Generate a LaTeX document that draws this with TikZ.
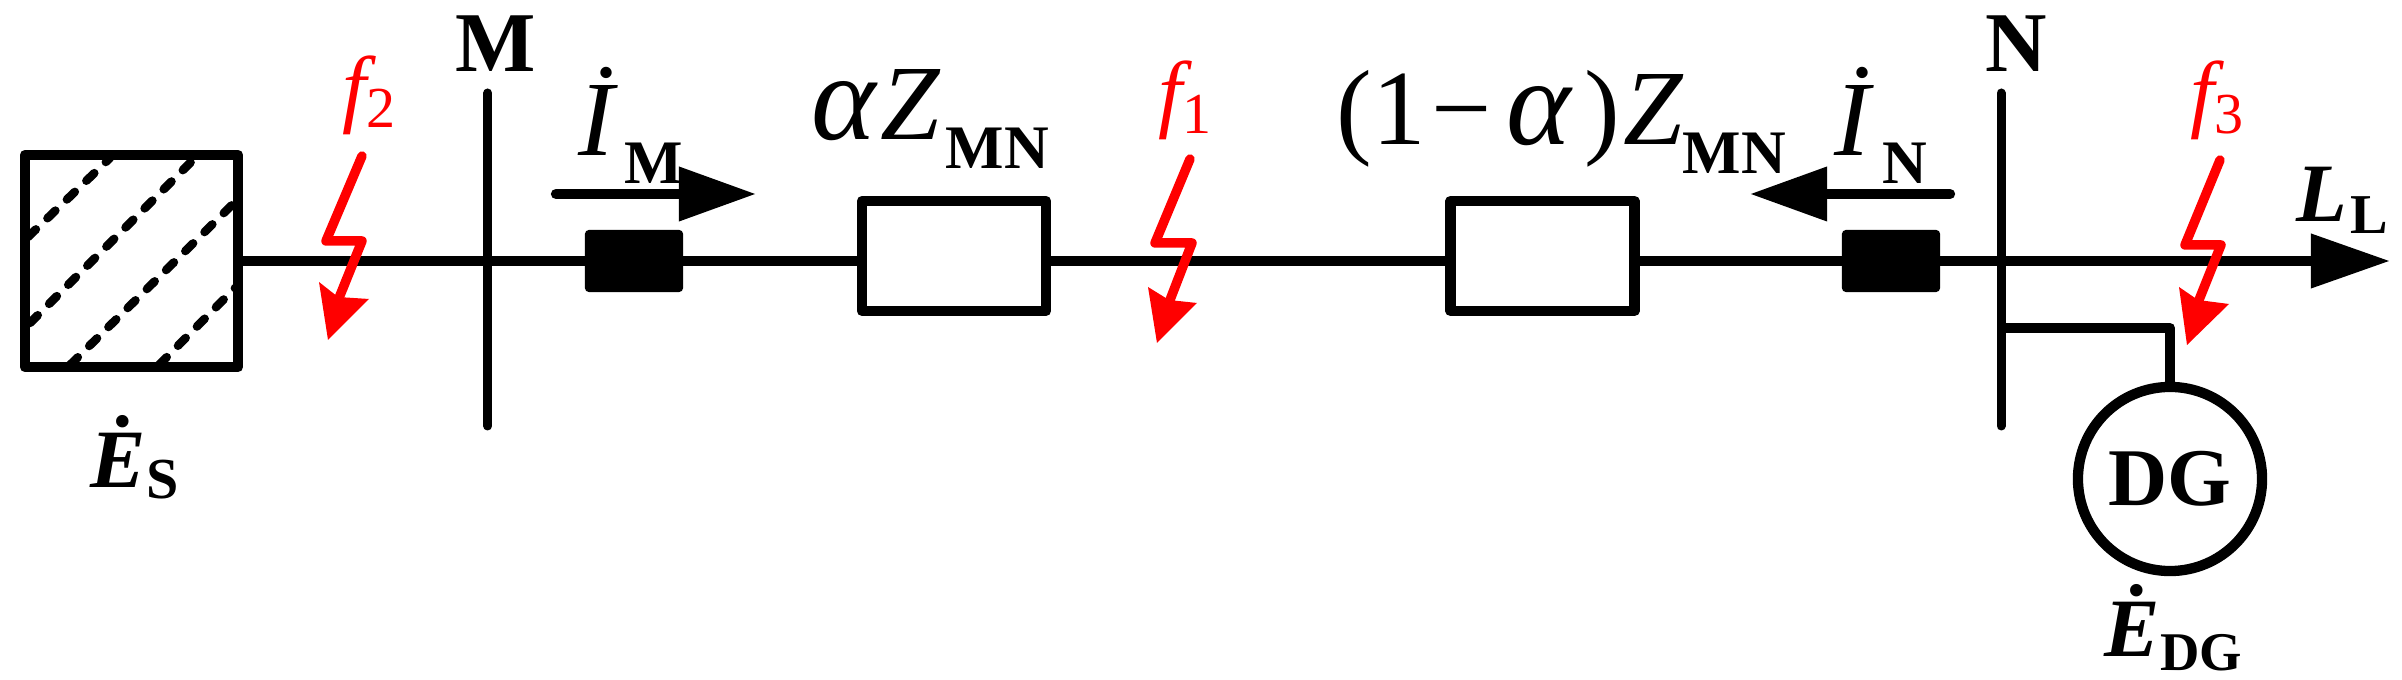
\documentclass[tikz,border=0pt]{standalone}
\usepackage{fontspec}
\setmainfont{Liberation Serif}
\usetikzlibrary{arrows.meta,calc}
\newcommand{\fsz}[1]{\fontsize{#1}{#1}\selectfont}
\newcommand{\lowsub}[3]{\raisebox{-#1}{\fsz{#2}#3}}
\tikzset{
  wire/.style={line width=1.03mm,line join=round,line cap=butt},
  bus/.style={line width=0.9mm,line cap=round},
  flow/.style={line width=1.03mm,line cap=round,-{Triangle[length=7.7mm,width=5.2mm]}},
  zbox/.style={draw,line width=1.03mm,line join=round,fill=white,minimum width=18.4mm,minimum height=11mm,inner sep=0},
  brk/.style={draw,fill=black,line width=0.2mm,rounded corners=0.3mm,minimum width=9.6mm,minimum height=6mm,inner sep=0},
  bolt/.style={red,line width=0.95mm,line join=round,line cap=round},
  lbl/.style={inner sep=0,anchor=base west},
  flbl/.style={lbl,red}
}
\begin{document}
\begin{tikzpicture}[x=0.01cm,y=-0.01cm]
  \useasboundingbox (0,0) rectangle (2402,680);
  % hatched source
  \draw[line width=0.85mm,line cap=round,dash pattern=on 1.1mm off 1.6mm]
    (28,237) -- (110,158)
    (30,323) -- (193,160)
    (70,365) -- (235,202)
    (159,365) -- (235,288);
  \node[draw,line width=1.03mm,line join=round,minimum width=21.3mm,minimum height=21.2mm,inner sep=0] (source) at (131.5,261) {};
  % buses
  \coordinate (Mtop) at (487.7,93);
  \coordinate (Mbot) at (487.7,426);
  \coordinate (busM) at (487.7,261);
  \coordinate (Ntop) at (2001,93);
  \coordinate (Nbot) at (2001,426);
  \coordinate (busN) at (2001,261);
  \coordinate (tapN) at (2001,328);
  \coordinate (load) at (2390,261);
  \draw[bus] (Mtop) -- (Mbot);
  \draw[bus] (Ntop) -- (Nbot);
  % line elements
  \node[brk] (cb1) at (634,261) {};
  \node[brk] (cb2) at (1891,261) {};
  \node[zbox] (z1) at (954,256) {};
  \node[zbox] (z2) at (1542.5,256) {};
  \node[draw,circle,line width=1.03mm,minimum size=18.4mm,inner sep=0,font=\fsz{23.3pt}\bfseries] (dg) at (2170,479) {DG};
  \draw[wire] (source.east) -- (busM);
  \draw[wire] (busM) -- (cb1);
  \draw[wire] (cb1) -- (cb1 -| z1.west);
  \draw[wire] (cb1 -| z1.east) -- (cb2 -| z2.west);
  \draw[wire] (cb2 -| z2.east) -- (cb2);
  \draw[wire] (cb2) -- (busN);
  \draw[wire,-{Triangle[length=7.9mm,width=5.2mm]}] (busN) -- (load);
  \draw[wire] (tapN) -| (dg.north);
  % current arrows
  \coordinate (iMs) at (556,194);
  \coordinate (iMe) at (756,194);
  \coordinate (iNs) at (1950,194);
  \coordinate (iNe) at (1750,194);
  \draw[flow] (iMs) -- (iMe);
  \draw[flow] (iNs) -- (iNe);
  % faults
  \draw[bolt] (362,156) -- (326,241) -- (362,241) -- (339,298);
  \fill[red] (328,340) -- (319,282) -- (338,297) -- (369,299) -- cycle;
  \draw[bolt] (1190,159) -- (1155,243) -- (1192,243) -- (1170,300);
  \fill[red] (1157,343) -- (1148,287) -- (1169,300) -- (1197,303) -- cycle;
  \draw[bolt] (2220,160) -- (2185,245) -- (2221,245) -- (2199,300);
  \fill[red] (2187,345) -- (2179,287) -- (2198,300) -- (2229,304) -- cycle;
  % labels
  \node[lbl,font=\fsz{24.2pt}\bfseries] (lblM) at (455,72) {M};
  \node[lbl,font=\fsz{24.2pt}\bfseries] (lblN) at (1985,72) {N};
  \node[flbl,font=\fsz{24.5pt}\itshape] (f2) at (342,117) {f\lowsub{1.1mm}{16.5pt}{\upshape 2}};
  \node[flbl,font=\fsz{24.5pt}\itshape] (f1) at (1158,122) {f\lowsub{1.2mm}{16.5pt}{\upshape 1}};
  \node[flbl,font=\fsz{24.5pt}\itshape] (f3) at (2190,122) {f\lowsub{1.2mm}{16.5pt}{\upshape 3}};
  \node[lbl,font=\fsz{30.4pt}\itshape] (iM) at (578,156) {İ\kern1mm\lowsub{2.7mm}{17.6pt}{\upshape\bfseries M}};
  \node[lbl,font=\fsz{30.4pt}\itshape] (iN) at (1834,156) {İ\kern1.2mm\lowsub{2.7mm}{17.6pt}{\upshape\bfseries N}};
  \node[lbl,font=\fsz{30.4pt}\itshape] (zL) at (811,140) {{\fsz{35pt}α}\kern.4mm Z\kern.6mm\lowsub{2.8mm}{17.6pt}{\upshape\bfseries MN}};
  \node[lbl,font=\fsz{30.4pt}] (zR) at (1336,145) {(1\kern.6mm−\kern1.4mm{\itshape\fsz{35pt}α}\kern1.4mm)\kern.3mm{\itshape Z}\lowsub{2.8mm}{17.6pt}{\bfseries MN}};
  \node[lbl,font=\fsz{23.6pt}\bfseries\itshape] (lL) at (2296,222) {L\kern.3mm\lowsub{1.2mm}{16pt}{\upshape L}};
  \node[lbl,font=\fsz{23.6pt}\bfseries\itshape] (eS) at (90,488) {Ė\lowsub{1.1mm}{16.5pt}{\upshape S}};
  \node[lbl,font=\fsz{23.6pt}\bfseries\itshape] (eDG) at (2104,657) {Ė\lowsub{1.3mm}{15.5pt}{\upshape DG}};
\end{tikzpicture}
\end{document}
